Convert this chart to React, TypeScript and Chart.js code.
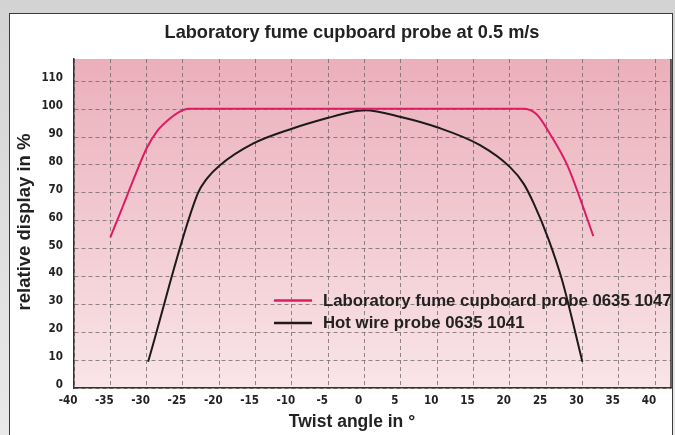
import React, { useEffect, useRef } from 'react';
import { Chart, registerables } from 'chart.js';

Chart.register(...registerables);

const chartTitle = 'Laboratory fume cupboard probe at 0.5 m/s';
const xAxisTitle = 'Twist angle in °';
const yAxisTitle = 'relative display in %';
const fumeLabel = 'Laboratory fume cupboard probe 0635 1047';
const hotWireLabel = 'Hot wire probe 0635 1041';

const fumeAngles = [-35, -33.3, -31.5, -30, -28.5, -27, -25.5, -24.3, 0, 21.8, 23.7, 25.8, 27.9, 29.4, 31.5];
const fumeValues = [54, 65, 76.8, 86, 92.3, 96.2, 99, 100.2, 100.2, 100.2, 98.2, 90, 80, 70, 54.5];

const hotWireAngles = [-29.8, -23.0, -21.7, -19.9, -15.3, -10, -5, -2, 0.1, 5, 10, 15.9, 20, 21.9, 23.3, 25.3, 27.2, 30];
const hotWireValues = [9.4, 69.5, 75.1, 79.9, 87.7, 93, 96.9, 98.9, 99.6, 97.2, 93.5, 87.1, 79.3, 73.3, 66.2, 53.6, 38.7, 9.4];

const fumeColor = '#dc1c66';
const hotWireColor = '#1c1a1b';
const textColor = '#222222';
const gridColor = 'rgba(110,100,105,0.75)';
const tickFont = { family: '"Liberation Sans Narrow", "DejaVu Sans Condensed", Arial, sans-serif', size: 11.5, weight: 'bold' as const };

const decorPlugin = {
  id: 'decor',
  beforeDraw(chart: any) {
    const { ctx, chartArea: a } = chart;
    const g = ctx.createLinearGradient(0, a.top, 0, a.bottom);
    g.addColorStop(0, '#ebafba');
    g.addColorStop(1, '#f9e5e8');
    ctx.save();
    ctx.fillStyle = g;
    ctx.fillRect(a.left, a.top, a.right - a.left, a.bottom - a.top);
    ctx.restore();
  },
  beforeDatasetsDraw(chart: any) {
    const { ctx } = chart;
    ctx.save();
    ctx.font = '600 16.8px "Liberation Sans", Arial, sans-serif';
    ctx.textBaseline = 'middle';
    ctx.textAlign = 'left';
    const items = chart.data.datasets.map((d: any) => ({ label: d.label, color: d.borderColor }));
    items.forEach((it: any, i: number) => {
      const y = 300.5 + i * 22.5;
      ctx.strokeStyle = it.color;
      ctx.lineWidth = 2.5;
      ctx.beginPath();
      ctx.moveTo(274, y);
      ctx.lineTo(312, y);
      ctx.stroke();
      ctx.fillStyle = textColor;
      ctx.fillText(it.label, 323, y + 0.5);
    });
    ctx.restore();
  },
  afterDraw(chart: any) {
    const { ctx, chartArea: a } = chart;
    ctx.save();
    ctx.strokeStyle = '#333';
    ctx.lineWidth = 1.5;
    ctx.beginPath();
    ctx.moveTo(a.right, a.top);
    ctx.lineTo(a.right, a.bottom);
    ctx.stroke();
    ctx.fillStyle = textColor;
    ctx.textAlign = 'center';
    ctx.textBaseline = 'middle';
    ctx.font = '600 18.2px "Liberation Sans", Arial, sans-serif';
    ctx.fillText(chartTitle, 352, 33);
    ctx.font = '600 17.5px "Liberation Sans", Arial, sans-serif';
    ctx.fillText(xAxisTitle, 352, 422);
    ctx.font = '600 18.5px "Liberation Sans", Arial, sans-serif';
    ctx.translate(25, 222);
    ctx.rotate(-Math.PI / 2);
    ctx.fillText(yAxisTitle, 0, 0);
    ctx.restore();
  },
};

export default function App() {
  const ref = useRef<HTMLCanvasElement | null>(null);

  useEffect(() => {
    document.body.style.margin = '0';
    const canvas = ref.current;
    if (!canvas) return;
    const chart = new Chart(canvas, {
      type: 'line',
      data: {
        datasets: [
          {
            label: fumeLabel,
            data: fumeAngles.map((x, i) => ({ x, y: fumeValues[i] })),
            borderColor: fumeColor,
            borderWidth: 2,
            cubicInterpolationMode: 'monotone',
            pointRadius: 0,
            fill: false,
          },
          {
            label: hotWireLabel,
            data: hotWireAngles.map((x, i) => ({ x, y: hotWireValues[i] })),
            borderColor: hotWireColor,
            borderWidth: 2,
            cubicInterpolationMode: 'monotone',
            pointRadius: 0,
            fill: false,
          },
        ],
      },
      options: {
        animation: false,
        responsive: false,
        maintainAspectRatio: false,
        layout: { padding: { top: 59, right: 4, left: 0, bottom: 0 } },
        plugins: {
          legend: { display: false },
          title: { display: false },
          tooltip: { enabled: false },
        },
        scales: {
          x: {
            type: 'linear',
            min: -40,
            max: 42.2,
            afterFit: (s: any) => { s.height = 47; },
            ticks: {
              stepSize: 5,
              includeBounds: false,
              autoSkip: false,
              maxRotation: 0,
              padding: 6,
              labelOffset: -6,
              color: textColor,
              font: tickFont,
            },
            grid: { color: gridColor, drawTicks: false, lineWidth: 1 },
            border: { color: '#333', width: 1.5, dash: [4, 3] },
          },
          y: {
            type: 'linear',
            min: 0,
            max: 118,
            afterFit: (s: any) => { s.width = 74; },
            ticks: {
              stepSize: 10,
              includeBounds: false,
              padding: 11,
              labelOffset: -3,
              color: textColor,
              font: tickFont,
            },
            grid: { color: gridColor, drawTicks: false, lineWidth: 1 },
            border: { color: '#333', width: 1.5, dash: [4, 3] },
          },
        },
      },
      plugins: [decorPlugin],
    } as any);
    return () => chart.destroy();
  }, []);

  return (
    <div style={{ position: 'relative', width: 675, height: 435, overflow: 'hidden', background: 'linear-gradient(#d3d3d3, #e9e9e9)' }}>
      <div style={{ position: 'absolute', left: 9, top: 13, width: 662, height: 440, background: '#fff', borderLeft: '1px solid #3a3a3a', borderTop: '1px solid #3a3a3a', borderRight: '1px solid #3a3a3a' }} />
      <canvas ref={ref} width={675} height={435} style={{ position: 'absolute', left: 0, top: 0, display: 'block' }} />
    </div>
  );
}
